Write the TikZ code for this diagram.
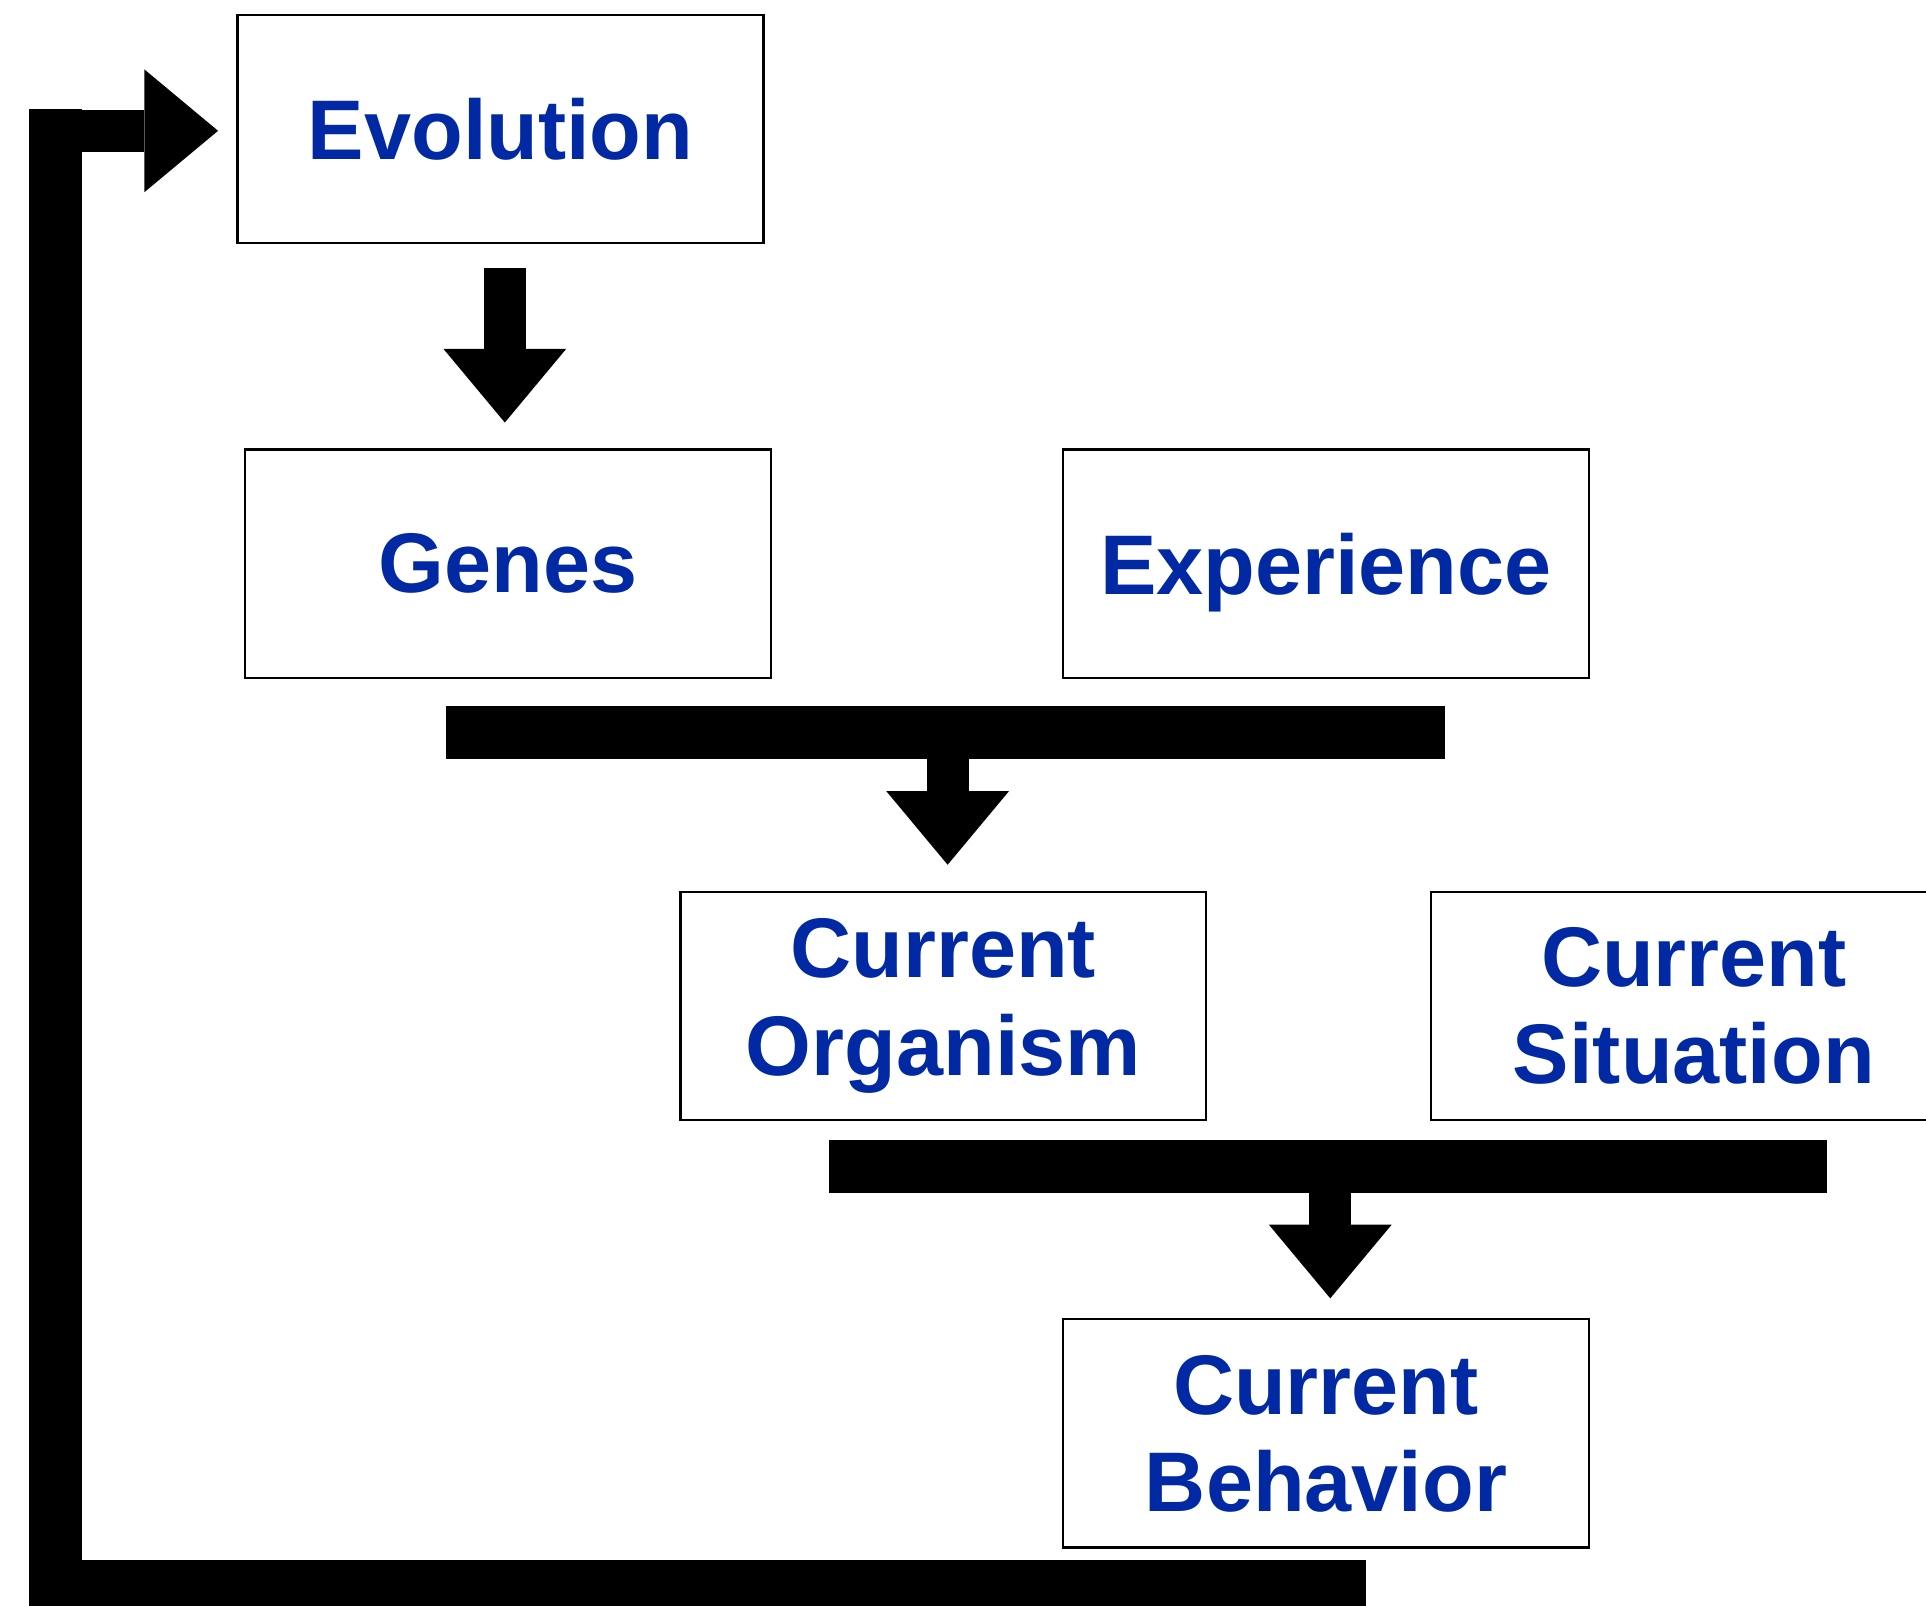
\documentclass[tikz,border=0pt]{standalone}
\usepackage{fontspec}
\setmainfont{Liberation Sans}
\usetikzlibrary{arrows.meta, positioning}
\definecolor{txtblue}{RGB}{0,41,163}

\begin{document}
\begin{tikzpicture}[%
    ,x=0.1mm,y=-0.1mm
    ,block/.style = {%
        ,draw
        ,line width=0.2mm
        ,minimum height=18.6mm,minimum width=42.8mm
        ,inner sep=0pt
        ,align=center
        ,text=txtblue
        ,font=\fontsize{19.6pt}{22.5pt}\selectfont\bfseries
        }
    ,fat/.style = {%
        ,line width=3.4mm
        ,-{Triangle[length=6mm,width=10mm,line width=0pt]}
        }
    ,bar/.style = {line width=4.3mm}
    ]
\useasboundingbox (0,0) rectangle (1568,1307);

\node (evo) [block] at (407.5,105) {Evolution};
\node (gen) [block, below=16.6mm of evo, xshift=0.6mm] {Genes};
\node (exp) [block, right=23.6mm of gen, text depth=0pt] {Experience};
\node (org) [block] at (768,819) {Current\\Organism};
\node (sit) [block, right=18.1mm of org] {Current\\Situation};
\node (beh) [block] at (exp |- 0,1167) {Current\\Behavior};

% Evolution -> Genes
\coordinate (e1) at ([xshift=0.35mm]evo.south);
\draw[fat, shorten <=1.9mm, shorten >=2.1mm] (e1) -- (e1 |- gen.north);

% Genes + Experience -> Organism
\coordinate (m1) at ([xshift=0.35mm]org.north |- 0,596.5);
\draw[bar] ([xshift=-40.85mm]m1) -- ([xshift=40.45mm]m1);
\draw[fat, shorten >=2.1mm] (m1) -- (m1 |- org.north);

% Organism + Situation -> Behavior
\coordinate (m2) at ([xshift=0.35mm]beh.north |- 0,950);
\draw[bar] ([xshift=-40.85mm]m2) -- ([xshift=40.45mm]m2);
\draw[fat, shorten >=1.6mm] (m2) -- (m2 |- beh.north);

% back to Evolution
\coordinate (fb) at (1112,1291.5);
\coordinate (fbc) at (45.5,106.5);
\draw[bar] (fb) -| ([yshift=1.75mm]fbc);
\draw[fat, shorten >=1.5mm] (fbc) -- (fbc -| evo.west);
\end{tikzpicture}
\end{document}
